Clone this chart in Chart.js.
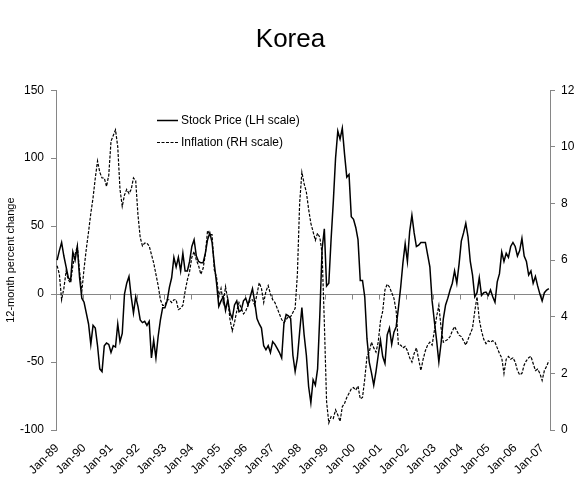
<!DOCTYPE html>
<html>
<head>
<meta charset="utf-8">
<script src="https://cdn.jsdelivr.net/npm/chart.js@4.4.0/dist/chart.umd.min.js"></script>
<style>
  html, body { margin: 0; padding: 0; background: #fff; }
</style>
</head>
<body>
<canvas id="koreaChart" width="581" height="485"></canvas>
<script>
const monthNames = ['Jan', 'Feb', 'Mar', 'Apr', 'May', 'Jun', 'Jul', 'Aug', 'Sep', 'Oct', 'Nov', 'Dec'];
const firstYear = 1989;

// 12-month % change in stock prices, Jan-89 .. Apr-07 (left scale)
const stockPrice = [
  25, 32, 38, 28, 20, 12, 10, 31, 25, 35, 12, -3,
  -6, -14, -22, -37, -23, -25, -38, -55, -57, -38, -36, -37,
  -43, -38, -39, -22, -35, -29, 0, 8, 13, -2, -14, -2,
  -9, -19, -21, -20, -23, -20, -47, -34, -47, -31, -19, -10,
  -10, -5, 5, 12, 27, 20, 27, 17, 30, 17, 17, 24,
  35, 40, 28, 24, 23, 23, 30, 40, 45, 38, 22, 8,
  -9, -5, -2, -12, -4, -14, -18, -8, -5, -13, -12, -5,
  -3, -8, -2, 4, -6, -18, -22, -25, -38, -41, -38, -43,
  -35, -37, -40, -43, -47, -22, -15, -16, -18, -45, -57, -47,
  -28, -10, -30, -45, -68, -80, -63, -67, -55, -15, 33, 48,
  6, 8, 40, 68, 100, 120, 114, 122, 103, 86, 88, 57,
  55, 49, 40, 10, 10, -2, -33, -50, -58, -67, -57, -45,
  -34, -46, -51, -30, -25, -37, -28, -24, -10, 5, 23, 37,
  24, 46, 58, 45, 35, 36, 38, 38, 38, 29, 20, -5,
  -20, -34, -50, -36, -18, -8, -3, 3, 8, 17, 8, 22,
  39, 45, 52, 42, 24, 14, -2, 1, 12, -1, 1, 1.5,
  -1, 3, -2, -6, 9, 15, 31, 24, 30, 27, 35, 38,
  35, 28, 32, 41, 28, 24, 14, 17, 8, 13, 6, 0,
  -5, 1, 3, 4
];

// 12-month CPI inflation, same months (right scale)
const inflation = [
  5.8, 5.5, 4.6, 5.0, 5.6, 5.3, 5.2, 5.8, 6.2, 6.5, 5.6, 4.9,
  5.7, 6.4, 7.0, 7.65, 8.2, 8.9, 9.5, 9.1, 8.9, 8.9, 8.6, 9.0,
  10.2, 10.4, 10.6, 10.0, 8.5, 7.9, 8.3, 8.5, 8.35, 8.5, 8.9, 8.8,
  7.6, 6.8, 6.5, 6.6, 6.6, 6.5, 6.2, 5.9, 5.5, 5.1, 4.6, 4.4,
  4.4, 4.6, 4.6, 4.5, 4.6, 4.6, 4.25, 4.3, 4.4, 4.9, 5.3, 5.6,
  6.1, 6.3, 6.0, 5.8, 5.5, 5.7, 6.2, 7.05, 6.9, 6.9, 5.65, 5.4,
  4.7, 5.0, 4.5, 5.06, 4.6, 3.9, 3.5, 3.8, 4.2, 4.5, 4.3, 4.1,
  4.2, 4.4, 4.6, 4.6, 4.4, 4.8, 5.2, 5.0, 4.5, 4.9, 5.1, 4.8,
  4.6, 4.5, 4.3, 4.1, 3.9, 3.8, 3.9, 4.0, 4.0, 4.15, 4.3, 5.5,
  8.0, 9.1, 8.7, 8.4, 7.8, 7.3, 7.0, 6.7, 6.95, 6.8, 6.25, 3.8,
  1.0, 0.25, 0.47, 0.41, 0.71, 0.53, 0.3, 0.82, 0.94, 1.15, 1.3, 1.45,
  1.5, 1.41, 1.55, 1.1, 1.15, 1.8, 2.6, 2.75, 3.1, 2.9, 2.75, 3.1,
  3.85, 4.2, 4.95, 5.15, 5.05, 4.85, 4.65, 4.2, 3.0, 3.0, 2.9, 2.95,
  2.8, 2.55, 2.4, 2.7, 2.9, 2.5, 2.1, 2.5, 2.8, 3.0, 3.1, 3.0,
  3.5, 4.0, 4.4, 3.6, 3.1, 3.15, 3.2, 3.3, 3.5, 3.65, 3.5, 3.35,
  3.3, 3.15, 3.0, 3.2, 3.4, 3.6, 4.2, 4.7, 3.9, 3.5, 3.2, 3.05,
  3.15, 3.1, 3.15, 3.1, 2.9, 2.7, 2.55, 2.0, 2.5, 2.6, 2.5, 2.55,
  2.4, 2.1, 1.95, 2.0, 2.3, 2.45, 2.55, 2.6, 2.35, 2.1, 2.15, 2.0,
  1.75, 2.1, 2.25, 2.45
];

const labels = stockPrice.map((v, i) => {
  const yr = (firstYear + Math.floor(i / 12)) % 100;
  return monthNames[i % 12] + '-' + String(yr).padStart(2, '0');
});

const axisGrey = '#868686';
Chart.defaults.font.family = "'Liberation Sans', Arial, sans-serif";
Chart.defaults.color = '#000';

// small tick marks on the zero line at each January
const zeroLineTicks = {
  id: 'zeroLineTicks',
  beforeDatasetsDraw(chart) {
    const x = chart.scales.x, y = chart.scales.y;
    const ctx = chart.ctx;
    const half = (x.getPixelForValue(1) - x.getPixelForValue(0)) / 2;
    const y0 = Math.round(y.getPixelForValue(0)) + 0.5;
    ctx.save();
    ctx.strokeStyle = axisGrey;
    ctx.lineWidth = 1;
    ctx.beginPath();
    for (let i = 12; i < labels.length; i += 12) {
      const px = Math.round(x.getPixelForValue(i) - half) + 0.5;
      ctx.moveTo(px, y0);
      ctx.lineTo(px, y0 + 5);
    }
    ctx.stroke();
    ctx.restore();
  }
};

// legend drawn inside the plot, top left
const insideLegend = {
  id: 'insideLegend',
  afterDraw(chart) {
    const ctx = chart.ctx;
    const rows = [120, 142];
    ctx.save();
    ctx.font = "12px 'Liberation Sans', Arial, sans-serif";
    ctx.textBaseline = 'middle';
    ctx.fillStyle = '#000';
    chart.data.datasets.forEach((ds, i) => {
      const ly = rows[i] + 0.5;
      ctx.strokeStyle = ds.borderColor;
      ctx.lineWidth = ds.borderWidth;
      ctx.setLineDash(ds.borderDash || []);
      ctx.beginPath();
      ctx.moveTo(157, ly);
      ctx.lineTo(178, ly);
      ctx.stroke();
      ctx.setLineDash([]);
      ctx.fillText(ds.label, 181, ly);
    });
    ctx.restore();
  }
};

new Chart(document.getElementById('koreaChart'), {
  type: 'line',
  data: {
    labels: labels,
    datasets: [
      {
        label: 'Stock Price (LH scale)',
        data: stockPrice,
        yAxisID: 'y',
        borderColor: '#000',
        borderWidth: 1.5,
        pointRadius: 0,
        tension: 0,
        fill: false
      },
      {
        label: 'Inflation (RH scale)',
        data: inflation,
        yAxisID: 'y1',
        borderColor: '#000',
        borderWidth: 1.2,
        borderDash: [3, 1.5],
        pointRadius: 0,
        tension: 0,
        fill: false
      }
    ]
  },
  options: {
    responsive: false,
    animation: false,
    layout: { padding: 0 },
    plugins: {
      legend: { display: false },
      tooltip: { enabled: false },
      title: {
        display: true,
        text: 'Korea',
        color: '#000',
        font: { size: 26, weight: 'normal' },
        padding: { top: 24, bottom: 35 }
      }
    },
    scales: {
      x: {
        type: 'category',
        offset: true,
        grid: { display: false },
        border: { display: false },
        ticks: {
          autoSkip: false,
          minRotation: 45,
          maxRotation: 45,
          padding: 3,
          font: { size: 12 },
          callback: (val, i) => (i % 12 === 0 ? labels[i] : '')
        },
        afterFit: (scale) => { scale.height = 55; }
      },
      y: {
        position: 'left',
        min: -100,
        max: 150,
        ticks: { stepSize: 50, padding: 7, font: { size: 12 } },
        grid: {
          drawOnChartArea: true,
          color: (c) => (c.tick && c.tick.value === 0 ? axisGrey : 'rgba(0,0,0,0)'),
          tickColor: axisGrey,
          tickLength: 5
        },
        border: { display: true, color: axisGrey },
        title: {
          display: true,
          text: '12-month percent change',
          font: { size: 11 },
          padding: { top: 4, bottom: 2 }
        },
        afterFit: (scale) => { scale.width = 56; }
      },
      y1: {
        position: 'right',
        min: 0,
        max: 12,
        ticks: { stepSize: 2, padding: 6, font: { size: 12 } },
        grid: { drawOnChartArea: false, tickColor: axisGrey, tickLength: 5 },
        border: { display: true, color: axisGrey },
        afterFit: (scale) => { scale.width = 31; }
      }
    }
  },
  plugins: [zeroLineTicks, insideLegend]
});
</script>
</body>
</html>
